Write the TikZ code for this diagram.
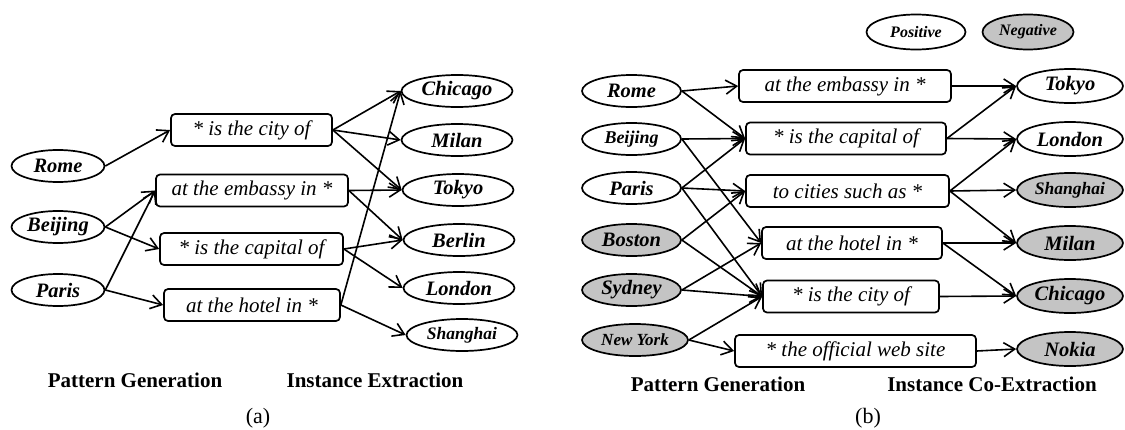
\documentclass[tikz,border=0pt]{standalone}
\usepackage{fontspec}
\setmainfont{Liberation Serif}
\usetikzlibrary{arrows.meta,shapes.geometric}
\definecolor{neg}{RGB}{196,196,196}
\tikzset{
  ent/.style={draw, ellipse, line width=1.7pt, inner sep=0pt, minimum height=32pt,
     font=\fontsize{20.5}{24}\selectfont\bfseries\itshape},
  negent/.style={ent, fill=neg},
  pat/.style={draw, rectangle, rounded corners=4pt, line width=1.7pt, inner sep=0pt,
     minimum height=32pt, font=\fontsize{21}{25}\selectfont\itshape},
  arr/.style={line width=1.6pt, -{Straight Barb[length=11pt,width=14pt,line width=1.6pt]}},
  lab/.style={font=\fontsize{21}{25}\selectfont\bfseries},
  sublabel/.style={font=\fontsize{22}{26}\selectfont},
}
\begin{document}
\begin{tikzpicture}[x=1pt,y=-1pt]
\useasboundingbox (0,0) rectangle (1125,429);
% ---------------- (a) ----------------
\node[ent, minimum width=93pt] (aRome) at (58,166) {Rome};
\node[ent, minimum width=93pt] (aBeijing) at (58,227) {Beijing};
\node[ent, minimum width=93pt] (aParis) at (58,290) {Paris};

\node[pat, minimum width=161pt] (aCity) at (251.5,130) {* is the city of};
\node[pat, minimum width=192pt] (aEmb) at (252,190.5) {at the embassy in *};
\node[pat, minimum width=183pt] (aCap) at (251.5,249) {* is the capital of};
\node[pat, minimum width=176pt] (aHotel) at (252,305) {at the hotel in *};

\node[ent, minimum width=111pt] (aChicago) at (457,91) {Chicago};
\node[ent, minimum width=111pt] (aMilan) at (457,140) {Milan};
\node[ent, minimum width=111pt] (aTokyo) at (458,190) {Tokyo};
\node[ent, minimum width=111pt] (aBerlin) at (459,240) {Berlin};
\node[ent, minimum width=111pt] (aLondon) at (459,288) {London};
\node[ent, minimum width=111pt, font=\fontsize{17.5}{21}\selectfont\bfseries\itshape] (aShanghai) at (462,335) {Shanghai};

\draw[arr] (aRome.east) -- (aCity.west);
\draw[arr] (aBeijing.east) -- (aEmb.west);
\draw[arr] (aBeijing.east) -- (aCap.west);
\draw[arr] (aParis.east) -- (aEmb.west);
\draw[arr] (aParis.east) -- (aHotel.west);

\draw[arr] (aCity.east) -- (aChicago.west);
\draw[arr] (aCity.east) -- (aMilan.west);
\draw[arr] (aCity.east) -- (aTokyo.west);
\draw[arr] (aEmb.east) -- (aTokyo.west);
\draw[arr] (aEmb.east) -- (aBerlin.west);
\draw[arr] (aCap.east) -- (aBerlin.west);
\draw[arr] (aCap.east) -- (aLondon.west);
\draw[arr] (aHotel.east) -- (aChicago.west);
\draw[arr] (aHotel.east) -- (aShanghai.west);

\node[lab] (aPG) at (135,380) {Pattern Generation};
\node[lab] (aIE) at (375,380) {Instance Extraction};
\node[sublabel] (aSub) at (258,418) {(a)};

% ---------------- (b) ----------------
\node[ent, minimum width=99pt, minimum height=35pt, font=\fontsize{16}{19}\selectfont\bfseries\itshape] (pos) at (916,32) {Positive};
\node[negent, minimum width=91pt, minimum height=35pt, font=\fontsize{16}{19}\selectfont\bfseries\itshape] (neglab) at (1028,32) {Negative};

\node[ent, minimum width=99pt] (bRome) at (631.5,91) {Rome};
\node[ent, minimum width=99pt, font=\fontsize{18}{21}\selectfont\bfseries\itshape] (bBeijing) at (631.5,139) {Beijing};
\node[ent, minimum width=99pt] (bParis) at (631.5,188) {Paris};
\node[negent, minimum width=99pt] (bBoston) at (631.5,240) {Boston};
\node[negent, minimum width=99pt] (bSydney) at (631.5,290) {Sydney};
\node[negent, minimum width=106pt, font=\fontsize{17}{20}\selectfont\bfseries\itshape] (bNY) at (635,340) {New York};

\node[pat, minimum width=212pt] (bEmb) at (845,86) {at the embassy in *};
\node[pat, minimum width=200pt] (bCap) at (846,138.5) {* is the capital of};
\node[pat, minimum width=203pt] (bCities) at (847.5,191) {to cities such as *};
\node[pat, minimum width=180pt] (bHotel) at (852,243) {at the hotel in *};
\node[pat, minimum width=176pt] (bCity) at (851,296.5) {* is the city of};
\node[pat, minimum width=241pt] (bOff) at (855.5,351) {* the official web site};

\node[ent, minimum width=106pt, minimum height=34pt] (bTokyo) at (1070,86) {Tokyo};
\node[ent, minimum width=106pt, minimum height=34pt] (bLondon) at (1070,139) {London};
\node[negent, minimum width=106pt, minimum height=34pt, font=\fontsize{17.5}{21}\selectfont\bfseries\itshape] (bShanghai) at (1070,190) {Shanghai};
\node[negent, minimum width=106pt, minimum height=34pt] (bMilan) at (1070,243) {Milan};
\node[negent, minimum width=106pt, minimum height=34pt] (bChicago) at (1070,296) {Chicago};
\node[negent, minimum width=106pt, minimum height=34pt] (bNokia) at (1070,349) {Nokia};

\draw[arr] (bRome.east) -- (bEmb.west);
\draw[arr] (bRome.east) -- (bCap.west);
\draw[arr] (bBeijing.east) -- (bCap.west);
\draw[arr] (bBeijing.east) -- (bHotel.west);
\draw[arr] (bParis.east) -- (bCap.west);
\draw[arr] (bParis.east) -- (bCities.west);
\draw[arr] (bParis.east) -- (bCity.west);
\draw[arr] (bBoston.east) -- (bCities.west);
\draw[arr] (bBoston.east) -- (bCity.west);
\draw[arr] (bSydney.east) -- (bHotel.west);
\draw[arr] (bSydney.east) -- (bCity.west);
\draw[arr] (bNY.east) -- (bCity.west);
\draw[arr] (bNY.east) -- (bOff.west);

\draw[arr] (bEmb.east) -- (bTokyo.west);
\draw[arr] (bCap.east) -- (bTokyo.west);
\draw[arr] (bCap.east) -- (bLondon.west);
\draw[arr] (bCities.east) -- (bLondon.west);
\draw[arr] (bCities.east) -- (bShanghai.west);
\draw[arr] (bCities.east) -- (bMilan.west);
\draw[arr] (bHotel.east) -- (bMilan.west);
\draw[arr] (bHotel.east) -- (bChicago.west);
\draw[arr] (bCity.east) -- (bChicago.west);
\draw[arr] (bOff.east) -- (bNokia.west);

\node[lab] (bPG) at (718,384) {Pattern Generation};
\node[lab] (bIE) at (992,384) {Instance Co-Extraction};
\node[sublabel] (bSub) at (868,418) {(b)};
\end{tikzpicture}
\end{document}
